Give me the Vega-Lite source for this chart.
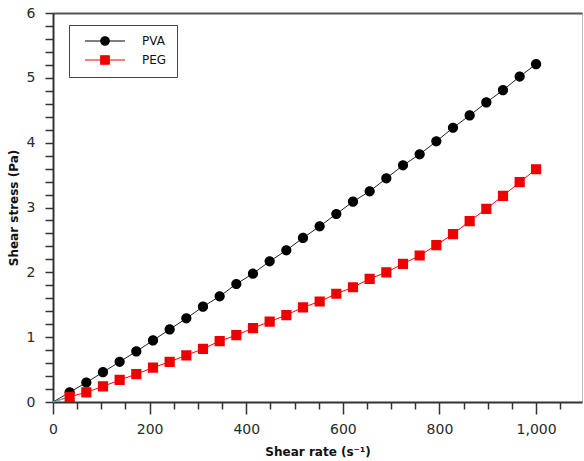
{
  "$schema": "https://vega.github.io/schema/vega-lite/v6.json",
  "autosize": "none",
  "width": 529,
  "height": 389,
  "padding": {"left": 53, "top": 13, "right": 2, "bottom": 59},
  "background": "white",
  "config": {
    "view": {"stroke": "#bbbbbb", "strokeWidth": 1},
    "font": "DejaVu Sans",
    "legend": {"symbolStrokeWidth": 1.2}
  },
  "datasets": {
    "d": [
      {"series": "PVA", "rate": 0, "stress": 0},
      {"series": "PVA", "rate": 34.5, "stress": 0.15},
      {"series": "PVA", "rate": 69, "stress": 0.30},
      {"series": "PVA", "rate": 103.5, "stress": 0.46},
      {"series": "PVA", "rate": 138, "stress": 0.62},
      {"series": "PVA", "rate": 172.5, "stress": 0.78},
      {"series": "PVA", "rate": 207, "stress": 0.95},
      {"series": "PVA", "rate": 241.5, "stress": 1.12},
      {"series": "PVA", "rate": 276, "stress": 1.29},
      {"series": "PVA", "rate": 310.5, "stress": 1.47},
      {"series": "PVA", "rate": 345, "stress": 1.63},
      {"series": "PVA", "rate": 379.5, "stress": 1.82},
      {"series": "PVA", "rate": 414, "stress": 1.98},
      {"series": "PVA", "rate": 448.5, "stress": 2.17},
      {"series": "PVA", "rate": 483, "stress": 2.34},
      {"series": "PVA", "rate": 517.5, "stress": 2.53},
      {"series": "PVA", "rate": 552, "stress": 2.71},
      {"series": "PVA", "rate": 586.5, "stress": 2.90},
      {"series": "PVA", "rate": 621, "stress": 3.09},
      {"series": "PVA", "rate": 655.5, "stress": 3.25},
      {"series": "PVA", "rate": 690, "stress": 3.45},
      {"series": "PVA", "rate": 724.5, "stress": 3.65},
      {"series": "PVA", "rate": 759, "stress": 3.82},
      {"series": "PVA", "rate": 793.5, "stress": 4.02},
      {"series": "PVA", "rate": 828, "stress": 4.23},
      {"series": "PVA", "rate": 862.5, "stress": 4.42},
      {"series": "PVA", "rate": 897, "stress": 4.62},
      {"series": "PVA", "rate": 931.5, "stress": 4.81},
      {"series": "PVA", "rate": 966, "stress": 5.02},
      {"series": "PVA", "rate": 1000, "stress": 5.21},
      {"series": "PEG", "rate": 0, "stress": 0},
      {"series": "PEG", "rate": 34.5, "stress": 0.08},
      {"series": "PEG", "rate": 69, "stress": 0.15},
      {"series": "PEG", "rate": 103.5, "stress": 0.24},
      {"series": "PEG", "rate": 138, "stress": 0.34},
      {"series": "PEG", "rate": 172.5, "stress": 0.43},
      {"series": "PEG", "rate": 207, "stress": 0.53},
      {"series": "PEG", "rate": 241.5, "stress": 0.62},
      {"series": "PEG", "rate": 276, "stress": 0.72},
      {"series": "PEG", "rate": 310.5, "stress": 0.82},
      {"series": "PEG", "rate": 345, "stress": 0.94},
      {"series": "PEG", "rate": 379.5, "stress": 1.03},
      {"series": "PEG", "rate": 414, "stress": 1.14},
      {"series": "PEG", "rate": 448.5, "stress": 1.24},
      {"series": "PEG", "rate": 483, "stress": 1.34},
      {"series": "PEG", "rate": 517.5, "stress": 1.46},
      {"series": "PEG", "rate": 552, "stress": 1.55},
      {"series": "PEG", "rate": 586.5, "stress": 1.67},
      {"series": "PEG", "rate": 621, "stress": 1.77},
      {"series": "PEG", "rate": 655.5, "stress": 1.90},
      {"series": "PEG", "rate": 690, "stress": 2.00},
      {"series": "PEG", "rate": 724.5, "stress": 2.13},
      {"series": "PEG", "rate": 759, "stress": 2.26},
      {"series": "PEG", "rate": 793.5, "stress": 2.42},
      {"series": "PEG", "rate": 828, "stress": 2.59},
      {"series": "PEG", "rate": 862.5, "stress": 2.79},
      {"series": "PEG", "rate": 897, "stress": 2.98},
      {"series": "PEG", "rate": 931.5, "stress": 3.18},
      {"series": "PEG", "rate": 966, "stress": 3.39},
      {"series": "PEG", "rate": 1000, "stress": 3.59}
    ],
    "fit": [
      {"rate": 0, "stress": 0},
      {"rate": 34.5, "stress": 0.08}
    ]
  },
  "data": {"name": "d"},
  "resolve": {"axis": {"x": "independent", "y": "independent"}},
  "layer": [
    {
      "transform": [{"filter": "datum.series === 'PVA'"}],
      "mark": {"type": "line", "color": "#222222", "strokeWidth": 1},
      "encoding": {
        "x": {"field": "rate", "type": "quantitative", "scale": {"domain": [0, 1095], "nice": false, "zero": false}, "axis": null},
        "y": {"field": "stress", "type": "quantitative", "scale": {"domain": [0, 6], "nice": false}, "axis": null},
        "order": {"field": "rate", "type": "quantitative"}
      }
    },
    {
      "transform": [{"filter": "datum.series === 'PEG'"}],
      "mark": {"type": "line", "color": "#ff0000", "strokeWidth": 1},
      "encoding": {
        "x": {"field": "rate", "type": "quantitative", "axis": null},
        "y": {"field": "stress", "type": "quantitative", "axis": null},
        "order": {"field": "rate", "type": "quantitative"}
      }
    },
    {
      "data": {"name": "fit"},
      "mark": {"type": "line", "color": "#33cccc", "strokeWidth": 1},
      "encoding": {
        "x": {"field": "rate", "type": "quantitative", "axis": {"orient": "top", "title": null, "labels": false, "ticks": false, "grid": false, "domainColor": "#555555", "domainWidth": 2}},
        "y": {"field": "stress", "type": "quantitative", "axis": null}
      }
    },
    {
      "transform": [{"filter": "datum.rate > 0"}],
      "mark": {"type": "point", "filled": true, "opacity": 1, "size": 144, "strokeWidth": 0},
      "encoding": {
        "x": {
          "field": "rate", "type": "quantitative",
          "axis": {
            "values": [0, 50, 100, 150, 200, 250, 300, 350, 400, 450, 500, 550, 600, 650, 700, 750, 800, 850, 900, 950, 1000, 1050],
            "labelExpr": "datum.value % 200 === 0 ? format(datum.value, ',') : ''",
            "tickSize": {"condition": {"test": "datum.value % 200 === 0", "value": 12}, "value": 7},
            "tickColor": "#333333", "tickWidth": 1.5,
            "domainColor": "#333333", "domainWidth": 2,
            "grid": false,
            "labelFont": "DejaVu Sans", "labelFontSize": 14, "labelColor": "#2a2a2a", "labelPadding": 8,
            "labelOverlap": false, "labelFlush": false,
            "title": "Shear rate (s⁻¹)", "titleFont": "DejaVu Sans", "titleFontSize": 12, "titleFontWeight": "bold", "titleColor": "#111111", "titlePadding": 10
          }
        },
        "y": {
          "field": "stress", "type": "quantitative",
          "axis": {
            "values": [0, 0.2, 0.4, 0.6, 0.8, 1, 1.2, 1.4, 1.6, 1.8, 2, 2.2, 2.4, 2.6, 2.8, 3, 3.2, 3.4, 3.6, 3.8, 4, 4.2, 4.4, 4.6, 4.8, 5, 5.2, 5.4, 5.6, 5.8, 6],
            "labelExpr": "datum.value % 1 === 0 ? format(datum.value, 'd') : ''",
            "ticks": true,
            "tickSize": 8,
            "tickColor": "#333333", "tickWidth": 1.5,
            "domainColor": "#333333", "domainWidth": 2,
            "grid": false,
            "labelFont": "DejaVu Sans", "labelFontSize": 14, "labelColor": "#2a2a2a", "labelPadding": 10,
            "labelOverlap": false, "labelFlush": false,
            "title": "Shear stress (Pa)", "titleFont": "DejaVu Sans", "titleFontSize": 12, "titleFontWeight": "bold", "titleColor": "#111111", "titlePadding": 6
          }
        },
        "color": {
          "field": "series", "type": "nominal",
          "scale": {"domain": ["PVA", "PEG"], "range": ["#000000", "#ee0000"]},
          "legend": {
            "title": null,
            "orient": "none",
            "legendX": 16,
            "legendY": 12,
            "padding": 10,
            "strokeColor": "#444444",
            "fillColor": "white",
            "cornerRadius": 0,
            "symbolOffset": 20,
            "labelOffset": 31,
            "rowPadding": 5,
            "labelFont": "DejaVu Sans",
            "labelFontSize": 12,
            "labelColor": "#111111",
            "symbolStrokeWidth": 1.2,
            "encode": {
              "legend": {"update": {"strokeWidth": {"value": 1.5}}},
              "symbols": {"update": {"stroke": {"scale": "color", "field": "value"}, "strokeWidth": {"value": 1.2}}}
            }
          }
        },
        "stroke": {
          "field": "series", "type": "nominal",
          "scale": {"domain": ["PVA", "PEG"], "range": ["#000000", "#ee0000"]},
          "legend": {
            "title": null,
            "orient": "none",
            "legendX": 16,
            "legendY": 12,
            "symbolStrokeWidth": 1.2,
            "encode": {
              "symbols": {"update": {"strokeWidth": {"value": 1.2}}}
            }
          }
        },
        "shape": {
          "field": "series", "type": "nominal",
          "scale": {"domain": ["PVA", "PEG"], "range": [
            "M-4,0L4,0M0.85,0A0.85,0.85,0,1,1,-0.85,0A0.85,0.85,0,1,1,0.85,0Z",
            "M-4,0L4,0M-0.85,-0.85L0.85,-0.85L0.85,0.85L-0.85,0.85Z"
          ]},
          "legend": {
            "title": null,
            "orient": "none",
            "legendX": 16,
            "legendY": 12,
            "symbolStrokeWidth": 1.2,
            "encode": {
              "symbols": {"update": {"strokeWidth": {"value": 1.2}}}
            }
          }
        }
      }
    }
  ]
}
